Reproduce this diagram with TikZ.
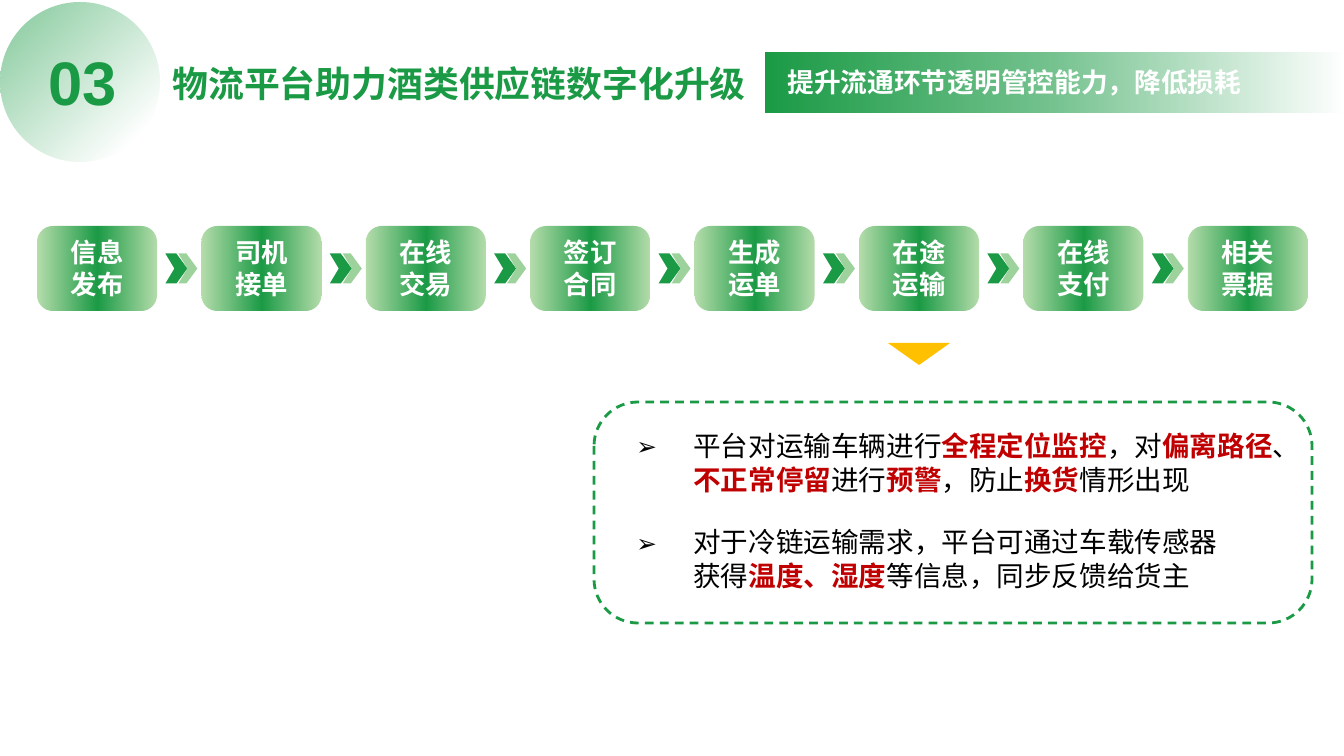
\documentclass[tikz,border=0pt]{standalone}
\usepackage{fontspec}
\newfontfamily\cjk{Noto Sans CJK SC}
\newfontfamily\cjkb{Noto Sans CJK SC Bold}
\newfontfamily\numfont{Liberation Sans}
\newfontfamily\symfont{DejaVu Sans}
\usetikzlibrary{positioning}
\definecolor{dgreen}{HTML}{1A9A45}
\definecolor{lgreen}{HTML}{B5DCAB}
\definecolor{dred}{HTML}{C00000}
\definecolor{gold}{HTML}{FFC000}
\newcommand{\hl}[1]{{\cjkb\color{dred}#1}}

\begin{document}
\begin{tikzpicture}[
        x=0.02cm, y=-0.02cm,
        block/.style={
            rectangle,
            rounded corners=9pt,
            minimum width=120*0.02cm,
            minimum height=85*0.02cm,
            left color=lgreen,
            right color=lgreen,
            middle color=dgreen,
            text=white,
            align=center,
            font=\cjkb\fontsize{15}{18}\selectfont,
            inner sep=0pt,
        },
        chev/.style={
            fill=#1, draw=none
        },
        line/.style={
            anchor=base west,
            inner sep=0pt,
            font=\cjk\fontsize{15.7}{18}\selectfont,
        },
        bullet/.style={
            anchor=base west,
            inner sep=0pt,
            font=\symfont\fontsize{14}{16}\selectfont,
        },
    ]
        \useasboundingbox (0,0) rectangle (1344,756);
        \fill[white] (0,0) rectangle (1344,756);

        % header
        \shade[left color=dgreen!45, right color=white, shading angle=45]
            (80,82) circle (80);
        \node[text=dgreen, font=\numfont\bfseries\fontsize{35}{38}\selectfont] (num) at (83,84) {03};
        \node[anchor=west, text=dgreen, font=\cjkb\fontsize{20.4}{24}\selectfont, inner sep=0pt] (title) at (172,84)
            {物流平台助力酒类供应链数字化升级};
        \shade[left color=dgreen, right color=white, middle color=dgreen!60] (765,53) rectangle (1344,113);
        \node[anchor=west, text=white, font=\cjkb\fontsize{15.2}{18}\selectfont, inner sep=0pt] (sub) at (787,83)
            {提升流通环节透明管控能力，降低损耗};

        % process
        \foreach \t [count=\i] in {信息\\发布,司机\\接单,在线\\交易,签订\\合同,生成\\运单,在途\\运输,在线\\支付,相关\\票据}
            \node[block] (b\i) at ({97+164.4*(\i-1)},268.5) {\t};
        \foreach \i in {1,...,7}{
            \path (b\i.east) ++(8,0) coordinate (c\i);
            \fill[chev=dgreen] (c\i) ++(0,-15) -- ++(11,0) -- ++(11,15) -- ++(-11,15) -- ++(-11,0) -- ++(9,-15) -- cycle;
            \fill[chev=lgreen!85!dgreen] (c\i) ++(13,-15) -- ++(8,0) -- ++(11,15) -- ++(-11,15) -- ++(-8,0) -- ++(9,-15) -- cycle;
        }

        \fill[gold] (888,343) -- (950,343) -- (919,365) -- cycle;

        % notes
        \draw[dgreen, line width=1.6pt, dash pattern=on 5pt off 3.5pt, rounded corners=25pt]
            (594,402) rectangle (1312,623);
        \node[bullet] (m1) at (636,455) {➢};
        \node[line] (l1) at (693,456) {平台对运输车辆进行\hl{全程定位监控}，对\hl{偏离路径}、};
        \node[line] (l2) at (693,490) {\hl{不正常停留}进行\hl{预警}，防止\hl{换货}情形出现};
        \node[bullet] (m2) at (636,552) {➢};
        \node[line] (l3) at (693,552) {对于冷链运输需求，平台可通过车载传感器};
        \node[line] (l4) at (693,586) {获得\hl{温度、湿度}等信息，同步反馈给货主};
    \end{tikzpicture}
\end{document}
